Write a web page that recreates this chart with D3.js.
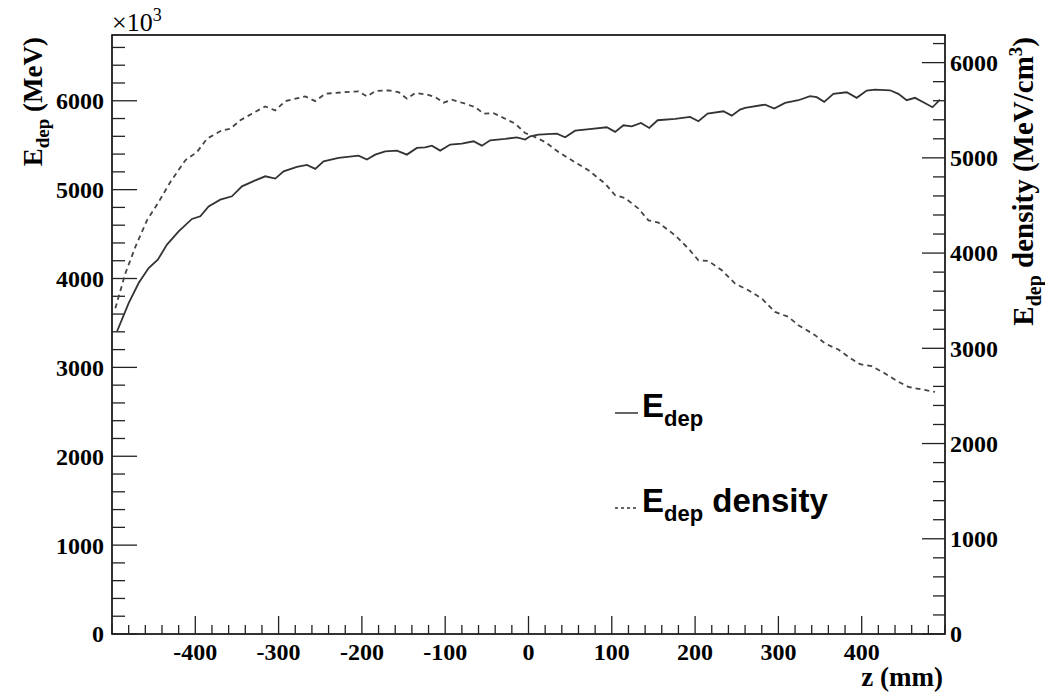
<!DOCTYPE html>
<html>
<head>
<meta charset="utf-8">
<script src="https://cdn.jsdelivr.net/npm/d3@7"></script>
<style>
  body { margin: 0; background: #fff; }
  svg { display: block; }
  .tick-label { font-family: "Liberation Serif", serif; font-weight: bold; font-size: 24px; }
</style>
</head>
<body>
<div id="my_dataviz"></div>
<script>
// z positions (mm) and E_dep (x10^3 MeV)
var zSolid = [-494, -480, -468, -456, -445, -434, -420, -404, -394, -384, -370, -356, -344, -328, -316, -304, -294, -278, -266, -256,
              -246, -228, -204, -194, -184, -172, -158, -146, -134, -124, -116, -106, -94, -80, -66, -56, -46, -28, -14, -4,
              2, 12, 34, 44, 56, 76, 94, 104, 114, 124, 135, 145, 155, 176, 194, 204, 215, 234, 244, 254,
              260, 284, 295, 308, 324, 338, 346, 355, 366, 382, 394, 406, 416, 434, 444, 454, 464, 474, 485, 494];
var eDep = [3404, 3724, 3949, 4118, 4212, 4381, 4530, 4670, 4700, 4812, 4887, 4925, 5037, 5105, 5150, 5124, 5206, 5255, 5278, 5233,
            5319, 5357, 5383, 5338, 5394, 5431, 5439, 5394, 5469, 5476, 5495, 5439, 5507, 5518, 5544, 5495, 5555, 5571, 5589, 5563,
            5600, 5619, 5631, 5589, 5664, 5683, 5702, 5650, 5724, 5713, 5750, 5694, 5781, 5796, 5818, 5769, 5856, 5882, 5833, 5901,
            5920, 5957, 5912, 5976, 6006, 6051, 6040, 5988, 6078, 6096, 6033, 6115, 6126, 6118, 6078, 6006, 6033, 5983, 5927, 6014];

// z positions (mm) and E_dep density (MeV/cm^3)
var zDashed = [-496, -484, -472, -458, -444, -430, -412, -398, -386, -368, -358, -346, -332, -316, -304, -292, -268, -256,
               -244, -220, -204, -194, -184, -168, -156, -146, -136, -122, -112, -102, -92, -76, -64, -54, -42, -28, -16, -4,
               8, 20, 36, 52, 72, 92, 104, 116, 132, 144, 156, 176, 192, 204, 216, 232, 248,
               264, 280, 296, 312, 324, 344, 356, 372, 384, 398, 412, 428, 444, 456, 472, 488];
var eDensity = [3420, 3785, 4064, 4344, 4536, 4746, 4974, 5061, 5201, 5289, 5306, 5394, 5464, 5540, 5498, 5596, 5645, 5596,
                5673, 5690, 5698, 5645, 5701, 5708, 5690, 5621, 5680, 5666, 5638, 5579, 5611, 5568, 5533, 5464, 5470, 5411, 5359, 5260,
                5218, 5166, 5061, 4974, 4869, 4729, 4607, 4578, 4467, 4344, 4320, 4187, 4047, 3924, 3917, 3820, 3680,
                3610, 3523, 3382, 3330, 3242, 3138, 3050, 2987, 2910, 2833, 2812, 2736, 2648, 2595, 2568, 2542];

var xTicks = [-400, -300, -200, -100, 0, 100, 200, 300, 400];
var yLeftTicks = [0, 1000, 2000, 3000, 4000, 5000, 6000];
var yRightTicks = [0, 1000, 2000, 3000, 4000, 5000, 6000];

// set the dimensions and margins of the graph
var margin = {top: 35, right: 100, bottom: 61, left: 112},
    width = 1045 - margin.left - margin.right,
    height = 695 - margin.top - margin.bottom;

var svg = d3.select("#my_dataviz")
  .append("svg")
    .attr("width", width + margin.left + margin.right)
    .attr("height", height + margin.top + margin.bottom)
  .append("g")
    .attr("transform", "translate(" + margin.left + "," + margin.top + ")");

var x = d3.scaleLinear().domain([-500, 500]).range([0, width]);
var yL = d3.scaleLinear().domain([0, 6740]).range([height, 0]);
var yR = d3.scaleLinear().domain([0, 6290]).range([height, 0]);

// frame
svg.append("rect")
  .attr("x", 0).attr("y", 0)
  .attr("width", width).attr("height", height)
  .attr("fill", "none").attr("stroke", "#000").attr("stroke-width", 1.6);

// ticks (major ones longer)
var xMinor = d3.range(-500, 501, 20);
svg.append("g").selectAll("line")
  .data(xMinor)
  .enter().append("line")
  .attr("x1", function(d) { return x(d); }).attr("x2", function(d) { return x(d); })
  .attr("y1", height).attr("y2", function(d) { return xTicks.indexOf(d) >= 0 ? height - 18 : height - 9; })
  .attr("stroke", "#222").attr("stroke-width", 1.3);

var yMinor = d3.range(0, 6741, 200);
svg.append("g").selectAll("line")
  .data(yMinor)
  .enter().append("line")
  .attr("x1", 0).attr("x2", function(d) { return d % 1000 === 0 ? 25 : 13; })
  .attr("y1", function(d) { return yL(d); }).attr("y2", function(d) { return yL(d); })
  .attr("stroke", "#222").attr("stroke-width", 1.3);

var yRMinor = d3.range(0, 6291, 200);
svg.append("g").selectAll("line")
  .data(yRMinor)
  .enter().append("line")
  .attr("x1", width).attr("x2", function(d) { return d % 1000 === 0 ? width - 23 : width - 12; })
  .attr("y1", function(d) { return yR(d); }).attr("y2", function(d) { return yR(d); })
  .attr("stroke", "#222").attr("stroke-width", 1.3);

// tick labels
svg.append("g").selectAll("text")
  .data(xTicks)
  .enter().append("text")
  .attr("class", "tick-label")
  .attr("x", function(d) { return x(d); })
  .attr("y", height + 26)
  .attr("text-anchor", "middle")
  .text(function(d) { return d; });

svg.append("g").selectAll("text")
  .data(yLeftTicks)
  .enter().append("text")
  .attr("class", "tick-label")
  .attr("x", -8)
  .attr("y", function(d) { return yL(d); })
  .attr("dy", "0.35em")
  .attr("text-anchor", "end")
  .text(function(d) { return d; });

svg.append("g").selectAll("text")
  .data(yRightTicks)
  .enter().append("text")
  .attr("class", "tick-label")
  .attr("x", width + 5)
  .attr("y", function(d) { return yR(d); })
  .attr("dy", "0.35em")
  .attr("text-anchor", "start")
  .text(function(d) { return d; });

// x10^3 multiplier
var mult = svg.append("text")
  .attr("x", 0).attr("y", -4)
  .style("font-family", "Liberation Serif").style("font-size", "26px");
mult.append("tspan").text("\u00d710");
mult.append("tspan").attr("dy", -10).style("font-size", "18px").text("3");

// axis titles
svg.append("text")
  .attr("x", width - 2).attr("y", height + 52)
  .attr("text-anchor", "end")
  .style("font-family", "Liberation Serif").style("font-weight", "bold").style("font-size", "27px")
  .text("z (mm)");

var lt = svg.append("text")
  .attr("transform", "translate(" + (-70) + ",2) rotate(-90)")
  .attr("text-anchor", "end")
  .style("font-family", "Liberation Serif").style("font-weight", "bold").style("font-size", "27px");
lt.append("tspan").text("E");
lt.append("tspan").attr("dy", 7).style("font-size", "19px").text("dep");
lt.append("tspan").attr("dy", -7).text(" (MeV)");

var rt = svg.append("text")
  .attr("transform", "translate(" + (width + 88) + ",2) rotate(-90)")
  .attr("text-anchor", "end")
  .style("font-family", "Liberation Serif").style("font-weight", "bold").style("font-size", "29px");
rt.append("tspan").text("E");
rt.append("tspan").attr("dy", 8).style("font-size", "20px").text("dep");
rt.append("tspan").attr("dy", -8).text(" density (MeV/cm");
rt.append("tspan").attr("dy", -11).style("font-size", "19px").text("3");
rt.append("tspan").attr("dy", 11).text(")");

// curves
var solidLine = d3.line()
  .x(function(d, i) { return x(zSolid[i]); })
  .y(function(d) { return yL(d); });
svg.append("path")
  .datum(eDep)
  .attr("d", solidLine)
  .attr("fill", "none").attr("stroke", "#333").attr("stroke-width", 1.8);

var dashedLine = d3.line()
  .x(function(d, i) { return x(zDashed[i]); })
  .y(function(d) { return yR(d); });
svg.append("path")
  .datum(eDensity)
  .attr("d", dashedLine)
  .attr("fill", "none").attr("stroke", "#444").attr("stroke-width", 1.8)
  .attr("stroke-dasharray", "5,4");

// legend
var legend = [{label: "", dash: null, y: 378}, {label: " density", dash: "3,3", y: 473}];
var lg = svg.append("g").selectAll("g")
  .data(legend)
  .enter().append("g")
  .attr("transform", function(d) { return "translate(503," + d.y + ")"; });
lg.append("line")
  .attr("x1", 0).attr("x2", 23)
  .attr("stroke", "#333").attr("stroke-width", 1.5)
  .attr("stroke-dasharray", function(d) { return d.dash; });
var lgText = lg.append("text")
  .attr("x", 27).attr("y", 4)
  .style("font-family", "Liberation Sans").style("font-weight", "bold").style("font-size", "33px");
lgText.append("tspan").text("E");
lgText.append("tspan").attr("dy", 9).style("font-size", "22px").text("dep");
lgText.append("tspan").attr("dy", -9).text(function(d) { return d.label; });
</script>
</body>
</html>
